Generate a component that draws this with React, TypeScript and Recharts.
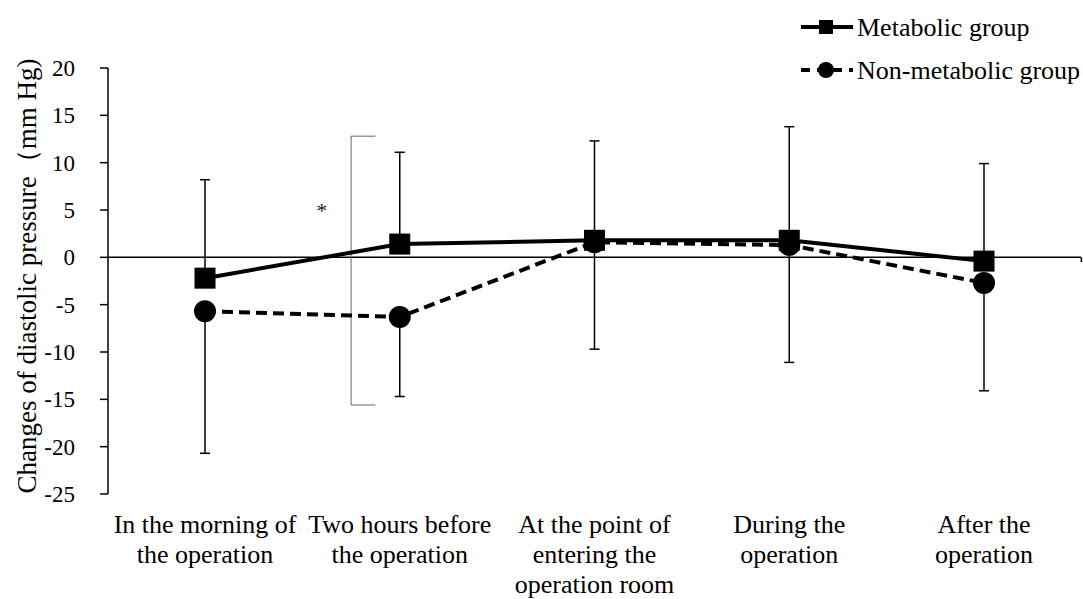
import React from "react";
import {
  LineChart,
  Line,
  XAxis,
  YAxis,
  ErrorBar,
  ReferenceLine,
  ReferenceDot,
  Label,
} from "recharts";

const categories = [
  "In the morning of\nthe operation",
  "Two hours before\nthe operation",
  "At the point of\nentering the\noperation room",
  "During the\noperation",
  "After the\noperation",
];
const metabolic = [-2.2, 1.4, 1.8, 1.8, -0.4];
const nonMetabolic = [-5.7, -6.3, 1.6, 1.3, -2.7];
const metabolicSD = [10.4, 9.7, 10.5, 12.0, 10.3];
const nonMetabolicSD = [15.0, 8.4, 11.3, 12.4, 11.4];
const yTicks = [-25, -20, -15, -10, -5, 0, 5, 10, 15, 20];
const seriesNames = ["Metabolic group", "Non-metabolic group"];
const yLabel = "Changes of diastolic pressure（mm Hg)";
// significance bracket, positions in category-index units / value units
const bracketX = 0.75;
const bracketEndX = 0.875;
const bracketTop = 12.8;
const bracketBottom = -15.6;
const starX = 0.6;
const starY = 5.0;
const axisEndX = 4.5;

const data = categories.map((c, i) => ({
  cat: c,
  pos: i,
  m: metabolic[i],
  n: nonMetabolic[i],
  mErr: [0, metabolicSD[i]],
  nErr: [nonMetabolicSD[i], 0],
}));

const FONT = '"Liberation Serif", "Times New Roman", serif';

const XTick = (props: any) => {
  const { x, y, payload } = props;
  const lines = String(payload.value).split("\n");
  return (
    <g>
      {lines.map((l: string, i: number) => (
        <text
          key={i}
          x={x}
          y={y + 39 + i * 30}
          textAnchor="middle"
          fontFamily={FONT}
          fontSize={26}
          fill="#000"
        >
          {l}
        </text>
      ))}
    </g>
  );
};

const SquareDot = (props: any) => {
  const { cx, cy, index } = props;
  if (cx == null || cy == null) return <g key={index} />;
  return <rect key={index} x={cx - 10.5} y={cy - 10.5} width={21} height={21} fill="#000" />;
};

const CircleDot = (props: any) => {
  const { cx, cy, index } = props;
  if (cx == null || cy == null) return <g key={index} />;
  return <circle key={index} cx={cx} cy={cy} r={11} fill="#000" />;
};

const StarLabel = (props: any) => {
  const vb = props.viewBox || {};
  const cx = (vb.x ?? 0) + (vb.width ?? 0) / 2;
  const cy = (vb.y ?? 0) + (vb.height ?? 0) / 2;
  return (
    <text x={cx} y={cy + 8} textAnchor="middle" fontFamily={FONT} fontSize={22} fill="#222">
      *
    </text>
  );
};

const LegendBox = () => (
  <svg width={290} height={85} style={{ position: "absolute", left: 795, top: 8 }}>
    <line x1={6} y1={19} x2={58} y2={19} stroke="#000" strokeWidth={4} />
    <rect x={24} y={12} width={14} height={14} fill="#000" />
    <text x={62} y={28} fontFamily={FONT} fontSize={26} fill="#000">
      {seriesNames[0]}
    </text>
    <line x1={6} y1={62} x2={58} y2={62} stroke="#000" strokeWidth={4} strokeDasharray="9 7" />
    <circle cx={31} cy={62} r={8} fill="#000" />
    <text x={62} y={71} fontFamily={FONT} fontSize={26} fill="#000">
      {seriesNames[1]}
    </text>
  </svg>
);

export default function App() {
  return (
    <div style={{ position: "absolute", left: 0, top: 0, width: 1083, height: 599, background: "#fff" }}>
      <LineChart
        width={1083}
        height={599}
        data={data}
        margin={{ top: 68, right: 2, bottom: 0, left: 0 }}
      >
        <XAxis
          dataKey="cat"
          axisLine={false}
          tickLine={false}
          tickSize={0}
          tickMargin={0}
          height={105}
          interval={0}
          padding={{ left: 97, right: 97 }}
          tick={<XTick />}
        />
        <XAxis
          xAxisId="b"
          dataKey="pos"
          type="number"
          domain={[0, 4]}
          allowDataOverflow
          padding={{ left: 97, right: 97 }}
          hide
        />
        <YAxis
          domain={[-25, 20]}
          ticks={yTicks}
          interval={0}
          width={108}
          axisLine={{ stroke: "#000", strokeWidth: 1.5 }}
          tickLine={{ stroke: "#000", strokeWidth: 1.5 }}
          tickSize={8}
          tickMargin={25}
          tick={{ fontFamily: FONT, fontSize: 23, fill: "#000" }}
        >
          <Label
            content={() => (
              <text
                transform="translate(27,276) rotate(-90)"
                textAnchor="middle"
                dominantBaseline="central"
                fontFamily={FONT}
                fontSize={27}
                fill="#000"
              >
                {yLabel}
              </text>
            )}
          />
        </YAxis>
        <ReferenceLine y={0} stroke="#000" strokeWidth={1.5} />
        <ReferenceLine
          xAxisId="b"
          ifOverflow="visible"
          segment={[{ x: axisEndX, y: 0 }, { x: axisEndX, y: -0.5 }]}
          stroke="#000"
          strokeWidth={1.5}
        />
        <ReferenceLine
          xAxisId="b"
          segment={[{ x: bracketX, y: bracketTop }, { x: bracketX, y: bracketBottom }]}
          stroke="#666"
          strokeWidth={1}
        />
        <ReferenceLine
          xAxisId="b"
          segment={[{ x: bracketX, y: bracketTop }, { x: bracketEndX, y: bracketTop }]}
          stroke="#666"
          strokeWidth={1}
        />
        <ReferenceLine
          xAxisId="b"
          segment={[{ x: bracketX, y: bracketBottom }, { x: bracketEndX, y: bracketBottom }]}
          stroke="#666"
          strokeWidth={1}
        />
        <ReferenceDot
          xAxisId="b"
          x={starX}
          y={starY}
          r={0}
          fill="none"
          stroke="none"
          label={<StarLabel />}
        />
        <Line
          dataKey="m"
          name={seriesNames[0]}
          stroke="#000"
          strokeWidth={4}
          dot={SquareDot}
          activeDot={false}
          isAnimationActive={false}
        >
          <ErrorBar dataKey="mErr" direction="y" width={5} stroke="#000" strokeWidth={1.5} />
        </Line>
        <Line
          dataKey="n"
          name={seriesNames[1]}
          stroke="#000"
          strokeWidth={4}
          strokeDasharray="11 6"
          dot={CircleDot}
          activeDot={false}
          isAnimationActive={false}
        >
          <ErrorBar dataKey="nErr" direction="y" width={5} stroke="#000" strokeWidth={1.5} />
        </Line>
      </LineChart>
      <LegendBox />
    </div>
  );
}
